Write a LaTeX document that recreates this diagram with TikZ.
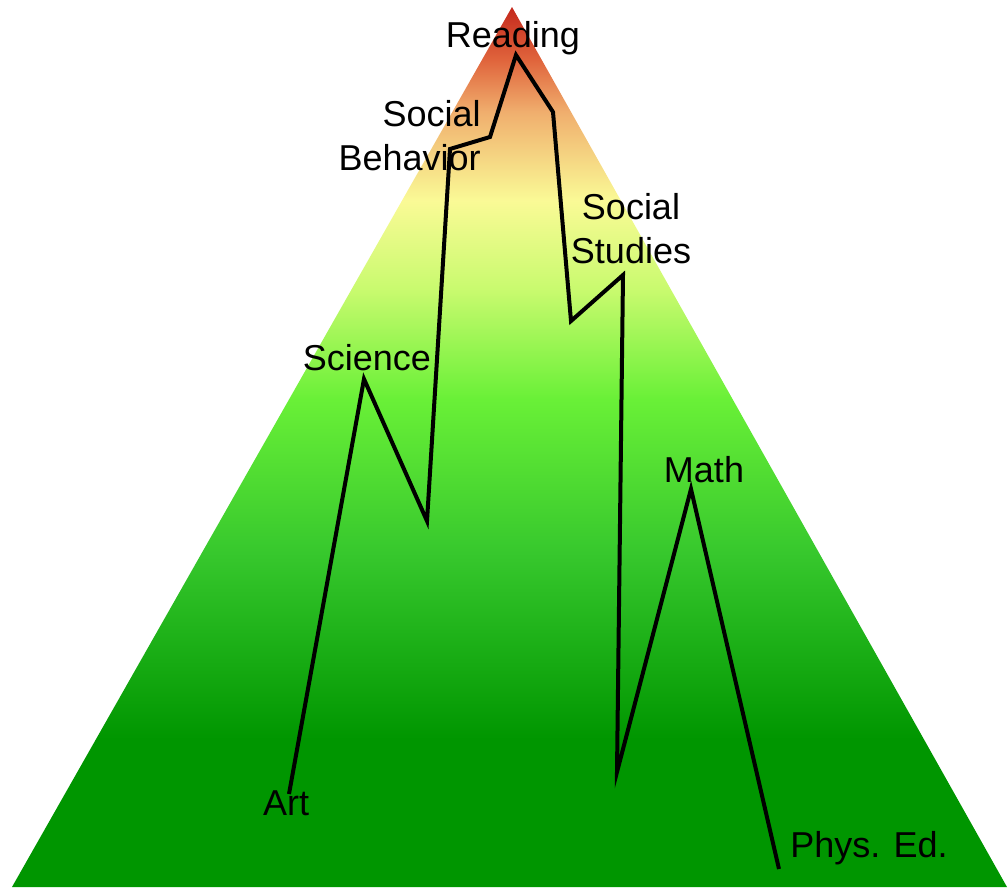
\documentclass[tikz,border=0pt]{standalone}
\usepackage{fontspec}
\setmainfont{Liberation Sans}
\usepackage{tikz}

\definecolor{pkred}{RGB}{196,40,28}
\definecolor{pkorange}{RGB}{224,100,60}
\definecolor{pkpeach}{RGB}{240,175,110}
\definecolor{pkyellow}{RGB}{250,250,150}
\definecolor{pkpale}{RGB}{200,250,110}
\definecolor{pkgreenB}{RGB}{105,240,55}
\definecolor{pkgreenM}{RGB}{55,200,45}
\definecolor{pkgreenD}{RGB}{0,150,0}

\pgfdeclareverticalshading{peak}{100bp}{color(0bp)=(pkgreenD); color(25bp)=(pkgreenD);
  color(33.4bp)=(pkgreenD); color(44bp)=(pkgreenM); color(52.7bp)=(pkgreenB);
  color(58.9bp)=(pkpale); color(64bp)=(pkyellow); color(69bp)=(pkpeach);
  color(72bp)=(pkorange); color(75bp)=(pkred); color(100bp)=(pkred)}

\begin{document}
\begin{tikzpicture}[x=0.5pt,y=-0.5pt]
                \tikzstyle{subject}=[inner sep=0pt,font=\fontsize{18}{22}\selectfont]
                \tikzstyle{trail}=[line width=2pt,black,line join=miter]

                \useasboundingbox (0,0) rectangle (1008,891);

                %% Draw the mountain
                \shade[shading=peak] (12,887) -- (512,7) -- (1007,887) -- cycle;

                %% Turning points of the trail
                \coordinate (art) at (289,794);
                \coordinate (science) at (364,379);
                \coordinate (dip1) at (427,521);
                \coordinate (social) at (450,149);
                \coordinate (ledge) at (490,137);
                \coordinate (reading) at (516,55);
                \coordinate (shoulder) at (553,112);
                \coordinate (dip2) at (571,321);
                \coordinate (studies) at (623,275);
                \coordinate (dip3) at (617,772);
                \coordinate (math) at (691,489);
                \coordinate (phys) at (779,869);

                %% Draw the trail
                \draw[trail] (art) -- (science) -- (dip1) -- (social) -- (ledge)
                    -- (reading) -- (shoulder) -- (dip2) -- (studies) -- (dip3)
                    -- (math) -- (phys);

                %% Labels
                \node [subject,anchor=base] at (513,47) (readingtext) {Reading};
                \node [subject,anchor=base east,align=right] at (481,170) (socialtext)
                    {Social\\Behavior};
                \node [subject,anchor=base,align=center] at (631,263) (studiestext)
                    {Social\\Studies};
                \node [subject,anchor=base] at (367,370) (sciencetext) {Science};
                \node [subject,anchor=base] at (704,482) (mathtext) {Math};
                \node [subject,anchor=base] at (286,815) (arttext) {Art};
                \node [subject,anchor=base] at (869,857) (physdtext) {Phys. Ed.};
\end{tikzpicture}
\end{document}
